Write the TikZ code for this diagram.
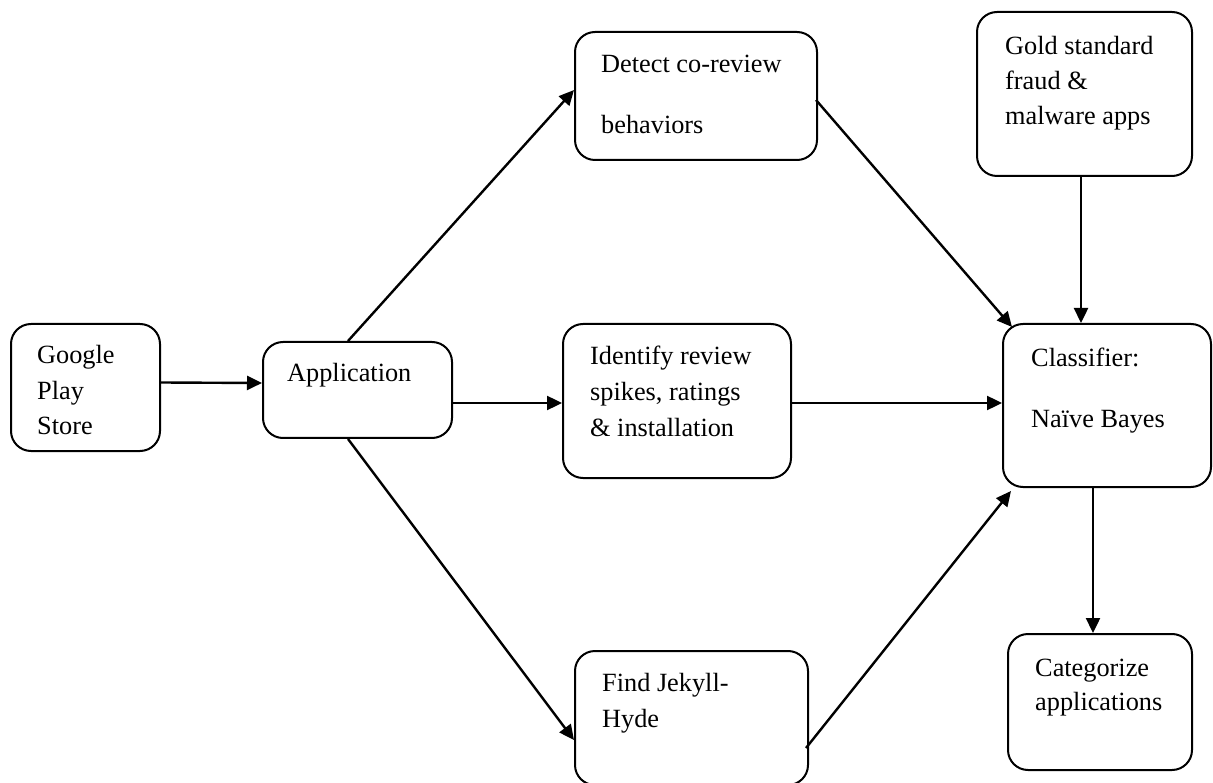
\documentclass[tikz,border=0pt]{standalone}
\usepackage{fontspec}
\setmainfont{Liberation Serif}
\usetikzlibrary{arrows.meta,calc}
\begin{document}
\begin{tikzpicture}[x=1pt,y=-1pt,
  box/.style={draw=black,line width=2pt,rounded corners=20pt,inner sep=0pt,fill=white},
  txt/.style={anchor=base west,inner sep=0pt,font=\fontsize{26.3}{35}\selectfont},
  arr/.style={line width=2.4pt,-{Triangle[length=15pt,width=14pt]}}]
\useasboundingbox (0,0) rectangle (1213,783);
% boxes
\node[box,minimum width=149pt,minimum height=127pt] (gps) at (85.5,387.5) {};
\node[box,minimum width=189pt,minimum height=96pt] (app) at (357.5,390) {};
\node[box,minimum width=242pt,minimum height=128pt] (det) at (696,96) {};
\node[box,minimum width=228pt,minimum height=154pt] (idf) at (677,401) {};
\node[box,minimum width=233pt,minimum height=134pt] (find) at (691.5,718) {};
\node[box,minimum width=215pt,minimum height=164pt] (gold) at (1084.5,94) {};
\node[box,minimum width=208pt,minimum height=163pt] (cls) at (1107,405.5) {};
\node[box,minimum width=184pt,minimum height=136pt] (cat) at (1100,702) {};
% texts
\node[txt] (t1) at (37,364) {Google};
\node[txt] (t2) at (37,400) {Play};
\node[txt] (t3) at (37,435) {Store};
\node[txt] (t4) at (287,382) {Application};
\node[txt] (t5) at (601,73) {Detect co-review};
\node[txt] (t6) at (601,134) {behaviors};
\node[txt] (t7) at (590,365) {Identify review};
\node[txt] (t8) at (590,401) {spikes, ratings};
\node[txt] (t9) at (590,436) {\& installation};
\node[txt] (t10) at (602,691) {Find Jekyll-};
\node[txt] (t11) at (602,727) {Hyde};
\node[txt] (t12) at (1005,55) {Gold standard};
\node[txt] (t13) at (1005,90) {fraud \&};
\node[txt] (t14) at (1005,125) {malware apps};
\node[txt] (t15) at (1031,367) {Classifier:};
\node[txt] (t16) at (1031,428) {Na\"ive Bayes};
\node[txt] (t17) at (1035,676) {Categorize};
\node[txt] (t18) at (1035,710) {applications};
% connectors
\draw[arr] ($(gps.east)+(0,-5)$) -- ($(app.west)+(0,-7)$);
\draw[arr] ($(app.north)+(-9.5,0)$) -- ($(det.west)+(0,-6)$);
\draw[arr] ($(app.east)+(0,13)$) -- ($(idf.west)+(0,2)$);
\draw[arr] ($(app.south)+(-9.5,0)$) -- ($(find.west)+(0,22)$);
\draw[arr] ($(det.east)+(-2,4)$) -- ($(cls.north west)+(10,4)$);
\draw[arr] ($(idf.east)+(0,2)$) -- ($(cls.west)+(0,-2.5)$);
\draw[arr] ($(find.east)+(-3,30)$) -- ($(cls.south west)+(9,3)$);
\draw[arr] ($(gold.south)+(-3.5,0)$) -- ($(cls.north)+(-26,0)$);
\draw[arr] ($(cls.south)+(-14,0)$) -- ($(cat.north)+(-7,0)$);
\end{tikzpicture}
\end{document}
